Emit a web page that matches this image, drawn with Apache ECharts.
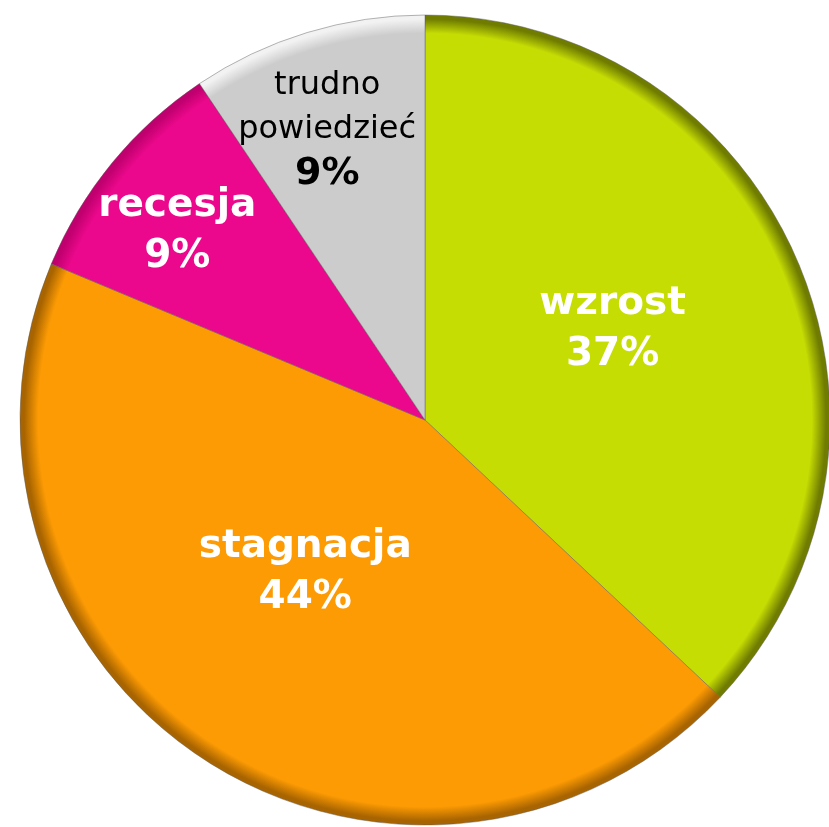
<!DOCTYPE html>
<html>
<head>
<meta charset="utf-8">
<script src="https://cdn.jsdelivr.net/npm/echarts@6/dist/echarts.min.js"></script>
<style>html,body{margin:0;padding:0;background:#fff}#c{width:829px;height:827px}</style>
</head>
<body>
<div id="c"></div>
<script>
const categories = ['wzrost', 'stagnacja', 'recesja', 'trudno powiedzieć'];
const values = [37.0, 44.3, 9.3, 9.4];

const baseColors = ['#c6dd04', '#fd9b04', '#ec088c', '#cccccc'];
const edgeColors = ['#6f7c00', '#a86400', '#c0006e', '#f2f2f2'];
const labelOffsets = [[-1, -9], [-8, -20], [-89, -58], [-38, -93]];

const CX = 425, CY = 420, R = 405;

function grad(base, edge) {
  return {
    type: 'radial', x: CX, y: CY, r: R, global: true,
    colorStops: [
      { offset: 0, color: base },
      { offset: 0.955, color: base },
      { offset: 0.99, color: edge },
      { offset: 1, color: edge }
    ]
  };
}

const data = categories.map((name, i) => {
  const isLast = i === 3;
  return {
    name: name,
    value: values[i],
    itemStyle: { color: grad(baseColors[i], edgeColors[i]) },
    label: {
      offset: labelOffsets[i],
      formatter: function (p) {
        const pct = Math.round(p.value) + '%';
        if (isLast) {
          const parts = p.name.split(' ');
          return '{n|' + parts[0] + '}\n{n|' + parts[1] + '}\n{b|' + pct + '}';
        }
        return '{w|' + p.name + '}\n{w|' + pct + '}';
      },
      rich: {
        w: { fontFamily: 'DejaVu Sans', fontSize: 39, fontWeight: 'bold', color: '#ffffff', lineHeight: 51 },
        n: { fontFamily: 'DejaVu Sans', fontSize: 32, fontWeight: 'normal', color: '#000000', lineHeight: 44 },
        b: { fontFamily: 'DejaVu Sans', fontSize: 38, fontWeight: 'bold', color: '#000000', lineHeight: 46 }
      }
    }
  };
});

const chart = echarts.init(document.getElementById('c'), null, { renderer: 'canvas' });
chart.setOption({
  animation: false,
  backgroundColor: '#ffffff',
  series: [{
    type: 'pie',
    center: [CX, CY],
    radius: [0, R],
    startAngle: 90,
    clockwise: true,
    avoidLabelOverlap: false,
    labelLayout: { hideOverlap: false },
    itemStyle: { borderColor: 'rgba(90,90,90,0.45)', borderWidth: 1 },
    label: {
      show: true,
      position: 'inside',
      align: 'center'
    },
    labelLine: { show: false },
    emphasis: { disabled: true },
    data: data
  }]
});
</script>
</body>
</html>
